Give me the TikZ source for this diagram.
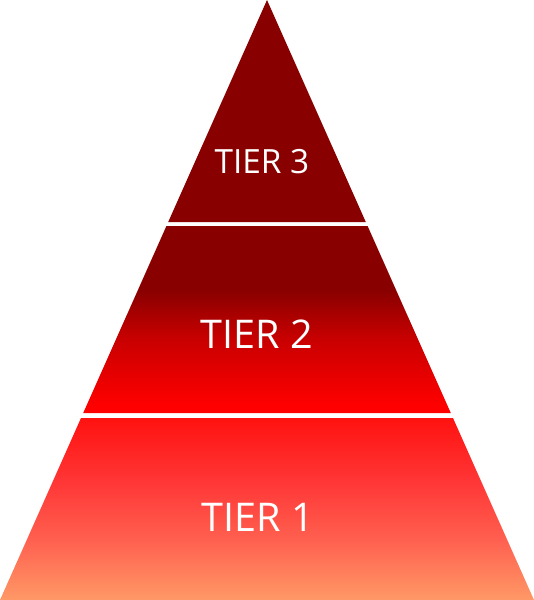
\documentclass[tikz,border=0pt]{standalone}
\usepackage{fontspec}
\setmainfont{Open Sans}
\definecolor{tierdark}{RGB}{136,0,0}
\definecolor{tiermid}{RGB}{200,0,0}
\definecolor{tierred}{RGB}{255,0,0}
\definecolor{tierlight}{RGB}{255,18,16}
\definecolor{tierpink}{RGB}{255,53,53}
\definecolor{tiersalmon}{RGB}{255,96,80}
\definecolor{tierorange}{RGB}{255,153,102}
% vertical shadings, path fills 25bp..75bp
\pgfdeclareverticalshading{tiertwo}{100bp}{color(0bp)=(tierred); color(27bp)=(tierred);
  color(45bp)=(tiermid); color(58bp)=(tierdark); color(100bp)=(tierdark)}
\pgfdeclareverticalshading{tierone}{100bp}{color(0bp)=(tierorange); color(25bp)=(tierorange);
  color(41.5bp)=(tiersalmon); color(58bp)=(tierpink); color(75bp)=(tierlight); color(100bp)=(tierlight)}

\begin{document}
\begin{tikzpicture}[x=0.02cm,y=-0.02cm,label/.style={text=white,inner sep=0pt}]
\useasboundingbox (0,0) rectangle (534,600);

\fill[tierdark] (267,0) -- (365.8,222) -- (168.2,222) -- cycle;
\shade[shading=tiertwo] (166.4,226) -- (367.6,226) -- (450.8,413) -- (83.2,413) -- cycle;
\shade[shading=tierone] (81,418) -- (453,418) -- (534,600) -- (0,600) -- cycle;

\node[label,font=\fontsize{19}{19}\selectfont](t3) at (262,162) {TIER 3};
\node[label,font=\fontsize{22.5}{22.5}\selectfont](t2) at (257,334) {TIER 2};
\node[label,font=\fontsize{22.5}{22.5}\selectfont](t1) at (258,517) {TIER 1};
\end{tikzpicture}
\end{document}
